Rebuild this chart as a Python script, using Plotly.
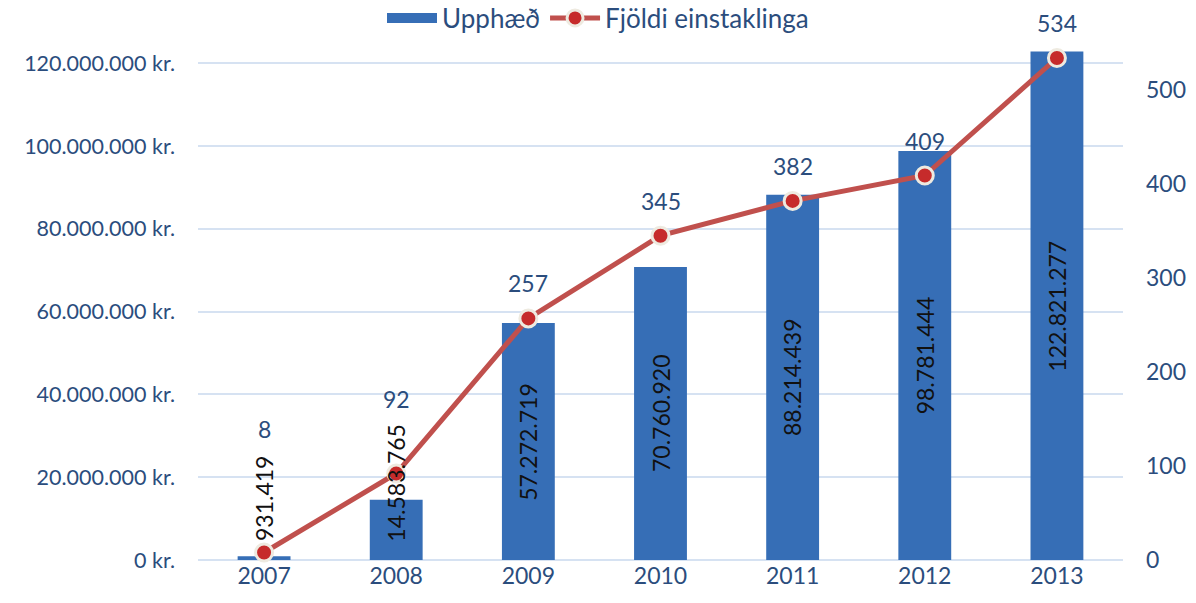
import plotly.graph_objects as go

years = ["2007", "2008", "2009", "2010", "2011", "2012", "2013"]
amounts = [931419, 14583765, 57272719, 70760920, 88214439, 98781444, 122821277]
counts = [8, 92, 257, 345, 382, 409, 534]
left_ticks = [0, 20000000, 40000000, 60000000, 80000000, 100000000, 120000000]
right_ticks = [0, 100, 200, 300, 400, 500]

# label styling offsets (pixels above point) for line labels
count_label_shift = [123, 75, 35, 35, 35, 35, 35]

FONT = "Lato"
TXT = "#2B4D7D"
BAR = "#366EB6"
LINE = "#C0504D"
MARK = "#C62B2B"
GRID = "#D6E2F2"


def isk(v):
    return f"{v:,}".replace(",", ".")


fig = go.Figure()
fig.add_trace(go.Bar(
    x=years, y=amounts, name="Upphæð",
    marker=dict(color=BAR, line=dict(width=0)),
    width=0.4, yaxis="y", showlegend=False, legendgroup="amt",
))
# legend entry for the bars, drawn as a wide swatch like the original
fig.add_trace(go.Scatter(
    x=[None], y=[None], name="Upphæð", mode="lines",
    line=dict(color=BAR, width=14), legendgroup="amt", showlegend=True,
))
fig.add_trace(go.Scatter(
    x=years, y=counts, name="Fjöldi einstaklinga", yaxis="y2",
    mode="lines+markers",
    line=dict(color=LINE, width=5),
    marker=dict(size=17, color=MARK, line=dict(color="#EEEAE0", width=3)),
    cliponaxis=False,
))

annotations = []
for i, v in enumerate(amounts):
    small = v < 40000000
    annotations.append(dict(
        x=i, y=(4000000 if small else v / 2), xref="x", yref="y",
        text=isk(v), showarrow=False, textangle=-90,
        yanchor=("bottom" if small else "middle"), xanchor="center",
        font=dict(family=FONT, size=23, color="#111111"),
    ))
for i, (c, s) in enumerate(zip(counts, count_label_shift)):
    annotations.append(dict(
        x=i, y=c, xref="x", yref="y2", text=str(c), showarrow=False,
        yshift=s, yanchor="middle",
        font=dict(family=FONT, size=23, color=TXT),
    ))

fig.update_layout(
    width=1196, height=603,
    margin=dict(l=198, r=73, t=0, b=43, autoexpand=False),
    paper_bgcolor="white", plot_bgcolor="white",
    font=dict(family=FONT, size=23, color=TXT),
    showlegend=True,
    legend=dict(
        orientation="h", xref="paper", yref="paper",
        x=(598 - 198) / 925, xanchor="center", y=(560 - 18) / 560, yanchor="middle",
        font=dict(family=FONT, size=26, color=TXT),
        bgcolor="rgba(255,255,255,0)", itemwidth=50,
    ),
    xaxis=dict(
        type="category", range=[-0.5, 6.5], autorange=False,
        showgrid=False, showline=False, ticks="", automargin=False,
        tickfont=dict(family=FONT, size=23, color=TXT),
    ),
    yaxis=dict(
        range=[0, 135270000], autorange=False, tickvals=left_ticks,
        ticktext=[isk(t) + " kr." for t in left_ticks],
        showgrid=True, gridcolor=GRID, gridwidth=1.5,
        zeroline=True, zerolinecolor=GRID, zerolinewidth=1.5,
        showline=False, ticks="", ticklabelstandoff=22, automargin=False,
        tickfont=dict(family=FONT, size=21.5, color=TXT),
    ),
    yaxis2=dict(
        range=[0, 595.7], autorange=False, tickvals=right_ticks,
        overlaying="y", side="right",
        showgrid=False, zeroline=False, showline=False, ticks="",
        ticklabelstandoff=22, automargin=False,
        tickfont=dict(family=FONT, size=23, color=TXT),
    ),
    annotations=annotations,
)

fig.write_html(
    "out.html",
    config={"displayModeBar": False},
    post_script="document.body.style.margin='0';document.body.style.padding='0';"
                "document.body.style.overflow='hidden';",
)
